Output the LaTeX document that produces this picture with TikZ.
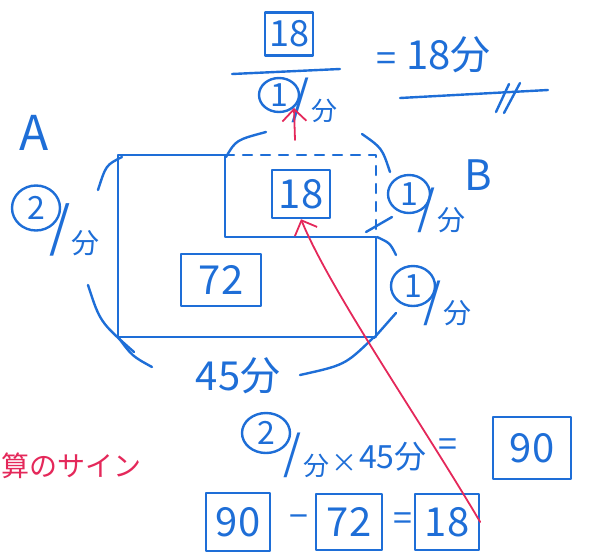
\documentclass[tikz,border=0pt]{standalone}
\usepackage{fontspec}
\newfontfamily\jp{Noto Sans CJK JP}
\usetikzlibrary{arrows.meta,shapes.geometric}
\definecolor{blu}{RGB}{30,110,215}
\definecolor{redink}{RGB}{228,40,90}
\tikzset{
  ink/.style={draw=blu,line width=2.4pt,line cap=round,line join=round},
  dashink/.style={ink,dash pattern=on 9pt off 9pt},
  lbl/.style={text=blu,inner sep=0pt,font=\jp\fontsize{#1}{#1}\selectfont},
  lbl/.default=26,
  boxd/.style={ink,inner sep=0pt,font=\jp\fontsize{40}{40}\selectfont,text=blu},
  circ/.style={ink,ellipse,inner sep=0pt,font=\jp\fontsize{32}{32}\selectfont,text=blu},
  slash/.style={text=blu,inner sep=0pt,font=\jp\fontsize{46}{46}\selectfont},
  unit/.style={lbl=28,anchor=south west,xshift=1pt},
  redarrow/.style={draw=redink,line width=1.8pt,line cap=round,-{Straight Barb[length=12pt,width=24pt,line width=1.8pt]}}
}
\begin{document}
\begin{tikzpicture}[x=1pt,y=-1pt]
\useasboundingbox (0,0) rectangle (591,555);
% ---------- top fraction ----------
\node[boxd,font=\jp\fontsize{36}{36}\selectfont,minimum width=48pt,minimum height=43pt] (t18) at (289,34) {18};
\coordinate (fl1) at (232,74); \coordinate (fl2) at (340,69);
\draw[ink] (fl1) -- (fl2);
\node[circ,minimum width=40pt,minimum height=34pt] (tc1) at (279,95) {1};
\node[slash] (ts) at (301,100) {/};
\node[unit,lbl=26] (tu) at (ts.south east) {分};
\node[lbl=36] (teq) at (386,62) {=};
\node[lbl=40,anchor=west] (tres) at (406,55) {18分};
\coordinate (ul1) at (400,98); \coordinate (ul2) at (548,90);
\draw[ink] (ul1) -- (ul2);
\coordinate (m1a) at (496,112); \coordinate (m1b) at (509,84);
\coordinate (m2a) at (504,113); \coordinate (m2b) at (520,83);
\draw[ink] (m1a) -- (m1b);
\draw[ink] (m2a) -- (m2b);
% ---------- A label ----------
\node[lbl=48] (A) at (34,133) {A};
% ---------- rectangles ----------
\coordinate (OA) at (118,155);
\coordinate (P) at (225,155);
\coordinate (Q) at (376,155);
\coordinate (R) at (225,237);
\coordinate (S) at (376,237);
\coordinate (T) at (376,337);
\coordinate (U) at (118,337);
\draw[ink] (P) -- (OA) -- (U) -- (T) -- (S) -- (R) -- (P);
\draw[dashink] (P) -- (Q) -- (S);
\node[boxd,minimum width=58pt,minimum height=48pt] (b18) at (301,194) {18};
\node[boxd,minimum width=80pt,minimum height=52pt] (b72) at (221,280) {72};
% ---------- left label ----------
\node[circ,minimum width=48pt,minimum height=45pt] (lc2) at (36,208) {2};
\node[slash,font=\jp\fontsize{54}{54}\selectfont] (ls) at (60,230) {/};
\node[unit] (lu) at (ls.south east) {分};
\coordinate (la1) at (122,157); \coordinate (la2) at (98,190);
\coordinate (lb1) at (88,285); \coordinate (lb2) at (134,352);
\draw[ink] (la1) .. controls (106,165) .. (la2);
\draw[ink] (lb1) .. controls (100,322) .. (lb2);
% ---------- arcs over B ----------
\coordinate (ta1) at (226,157); \coordinate (ta2) at (266,132);
\coordinate (tb1) at (362,134); \coordinate (tb2) at (390,172);
\draw[ink] (ta1) .. controls (236,140) .. (ta2);
\draw[ink] (tb1) .. controls (382,148) .. (tb2);
% ---------- right labels ----------
\node[circ,minimum width=42pt,minimum height=38pt] (rc1) at (409,194) {1};
\node[slash] (rs) at (427,210) {/};
\node[unit] (ru) at (rs.south east) {分};
\node[lbl=42] (B) at (478,175) {B};
\coordinate (rt1) at (392,217); \coordinate (rt2) at (366,232);
\draw[ink] (rt1) -- (rt2);
\coordinate (rt3) at (377,237); \coordinate (rt4) at (396,255);
\draw[ink] (rt3) .. controls (390,243) .. (rt4);
\node[circ,minimum width=44pt,minimum height=40pt] (rc2) at (413,286) {1};
\node[slash] (rs2) at (433,303) {/};
\node[unit] (ru2) at (rs2.south east) {分};
\coordinate (rt5) at (374,338); \coordinate (rt6) at (396,313);
\draw[ink] (rt5) -- (rt6);
% ---------- bottom side ----------
\coordinate (ba1) at (118,337); \coordinate (ba2) at (152,367);
\coordinate (bb1) at (300,375); \coordinate (bb2) at (373,338);
\draw[ink] (ba1) .. controls (132,356) .. (ba2);
\draw[ink] (bb1) .. controls (345,365) .. (bb2);
\node[lbl=40] (b45) at (238,376) {45分};
% ---------- red sign text ----------
\node[text=redink,inner sep=0pt,anchor=west,font=\jp\fontsize{28}{28}\selectfont] (sign) at (1,466) {算のサイン};
% ---------- equation 1 ----------
\node[circ,minimum width=48pt,minimum height=40pt] (ec2) at (266,433) {2};
\node[slash] (es) at (293,455) {/};
\node[unit,lbl=26,xshift=0pt] (eu) at (es.south east) {分};
\node[lbl=26,anchor=west] (times) at ([xshift=2pt,yshift=2pt]eu.east) {×};
\node[lbl=32,anchor=west] (e45) at ([xshift=1pt,yshift=7pt]times.east) {45分};
\node[lbl=34] (eeq) at (448,448) {=};
\node[boxd,minimum width=78pt,minimum height=62pt] (e90) at (532,448) {90};
% ---------- equation 2 ----------
\node[boxd,minimum width=64pt,minimum height=58pt] (f90) at (238,522) {90};
\node[lbl=34] (fminus) at (299,522) {−};
\node[boxd,minimum width=66pt,minimum height=56pt] (f72) at (349,522) {72};
\node[lbl=34] (feq) at (403,522) {=};
\node[boxd,minimum width=64pt,minimum height=56pt] (f18) at (447,522) {18};
% ---------- red arrows ----------
\draw[redarrow] (f18.east) .. controls (420,420) and (330,290) .. (b18.south);
\coordinate (ra1) at (295,140);
\draw[redarrow] (ra1) -- (tc1.south east);
\end{tikzpicture}
\end{document}
